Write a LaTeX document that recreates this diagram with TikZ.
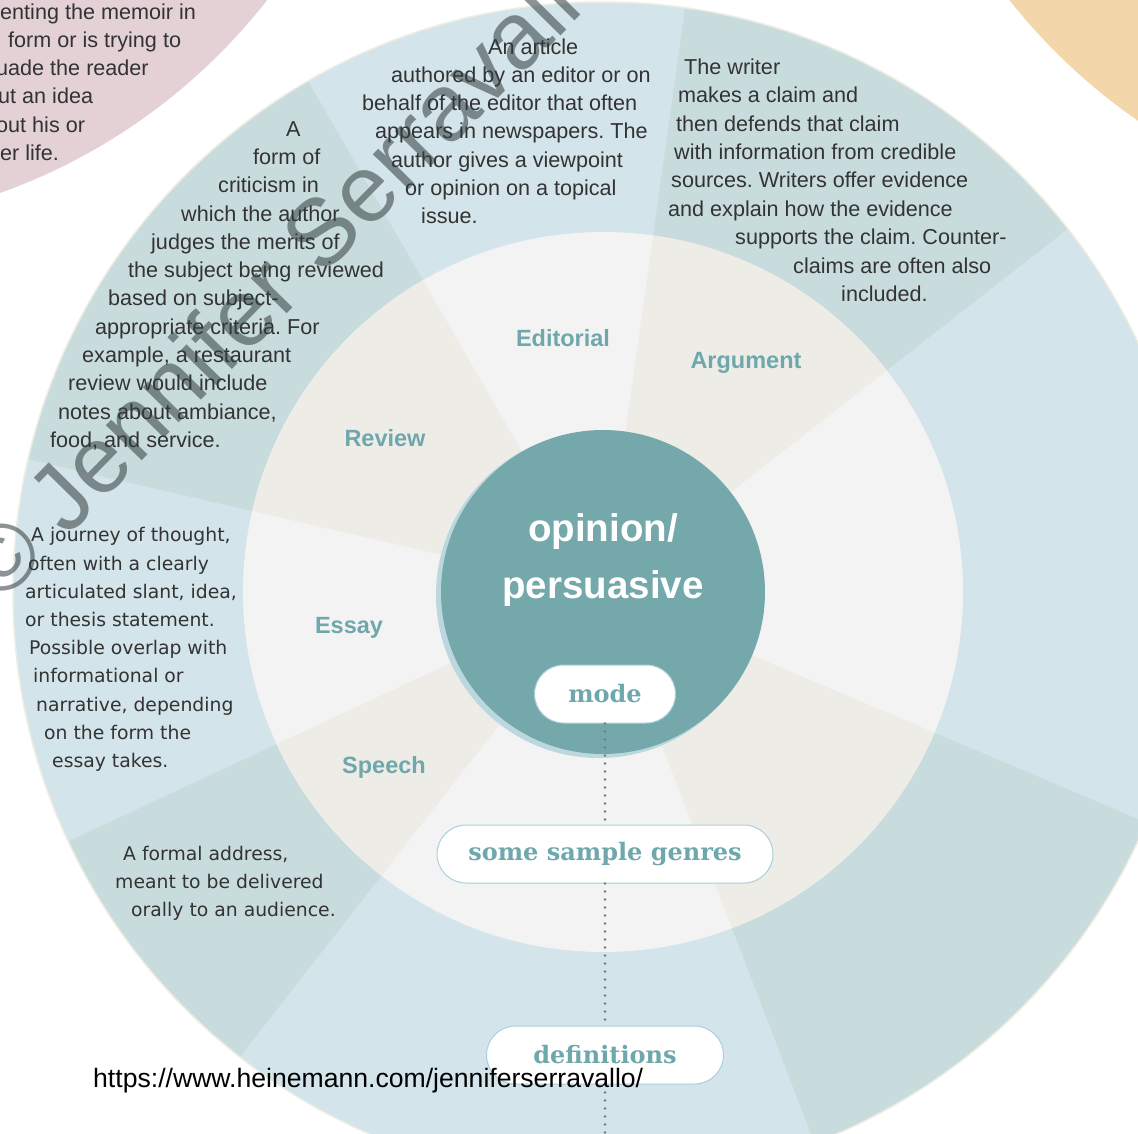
\documentclass[tikz,border=0pt]{standalone}
\usepackage{fontspec}
\setmainfont{Liberation Sans}
\newfontfamily\wideface{DejaVu Sans}
\newfontfamily\slabface{DejaVu Serif}
\usetikzlibrary{positioning}
\frenchspacing

\definecolor{ringblue}{HTML}{D3E4EA}
\definecolor{ringteal}{HTML}{C9DCDD}
\definecolor{rimcream}{HTML}{EEEDE3}
\definecolor{midwhite}{HTML}{F4F3F4}
\definecolor{midbeige}{HTML}{EEECE7}
\definecolor{hub}{HTML}{74A8AB}
\definecolor{hubrim}{HTML}{BCD8DE}
\definecolor{labelteal}{HTML}{6FA8AC}
\definecolor{pillline}{HTML}{A9CFDB}
\definecolor{memoirpink}{HTML}{E3D1D6}
\definecolor{infoorange}{HTML}{F3D6A9}
\definecolor{bodytext}{HTML}{333333}
\definecolor{wmgray}{HTML}{303C3D}
\definecolor{dotgray}{HTML}{6F7A7C}

\begin{document}
\begin{tikzpicture}[x=1pt, y=-1pt,
	textline/.style = {font=\fontsize{21.6}{26}\selectfont, text=bodytext, anchor=west, inner sep=0pt, text height=15pt, text depth=5pt},
	wideline/.style = {textline, font=\wideface\fontsize{18.8}{24}\selectfont, text height=14pt, text depth=4pt},
	genre/.style = {font=\bfseries\fontsize{23.5}{28}\selectfont, text=labelteal},
	pill/.style = {draw=pillline, line width=1pt, fill=white, rounded corners=29pt, minimum height=58pt, inner sep=0pt, font=\slabface\bfseries\fontsize{24}{28}\selectfont, text=labelteal},
	dots/.style = {draw=dotgray, line width=2.6pt, line cap=round, dash pattern=on 0pt off 8pt}]
	\useasboundingbox (0,0) rectangle (1138,1133);
	\clip (0,0) rectangle (1138,1133);
	\fill[white] (0,0) rectangle (1138,1133);

	% neighbouring wheels
	\fill[memoirpink] (-198,-363) circle[radius=590];
	\fill[infoorange] (1473,-365) circle[radius=590];

	% rings
	\coordinate (hubc) at (603,592);
	\fill[ringblue] (hubc) circle[radius=590];
	\foreach \a/\b in {-82/-38, -167/-120, -232/-205, 23/69}
		\fill[ringteal] (hubc) -- ++(\a:590) arc[start angle=\a, end angle=\b, radius=590] -- cycle;
	\draw[rimcream, line width=1.5pt] (hubc) circle[radius=590];
	\fill[midwhite] (hubc) circle[radius=360];
	\foreach \a/\b in {-82/-38, -167/-120, -232/-205, 23/69}
		\fill[midbeige] (hubc) -- ++(\a:360) arc[start angle=\a, end angle=\b, radius=360] -- cycle;
	\fill[hubrim] (599,595) circle[radius=163];
	\node[circle, fill=hub, minimum size=324pt, inner sep=0pt] (hub) at (hubc) {};
	\node[text=white, font=\bfseries\fontsize{38.5}{57}\selectfont, align=center] (title) at (603,560) {opinion/\\persuasive};

	% genre names
	\node[genre] (editorial) at (563,338) {Editorial};
	\node[genre] (argument) at (746,363) {Argument};
	\node[genre] (review) at (385,438) {Review};
	\node[genre] (essay) at (349,628) {Essay};
	\node[genre] (speech) at (384,767) {Speech};

	% definitions
	\foreach \x/\y/\t [count=\i] in {0/14/{enting the memoir in}, 8/42/{form or is trying to}, -4/70/{uade the reader}, -2/98/{ut an idea}, -4/127/{out his or}, 0/155/{er life.}}
		\node[textline] (memoir-\i) at (\x,\y) {\t};
	\foreach \x/\y/\t [count=\i] in {488/49/{An article}, 391/77/{authored by an editor or on}, 362/105/{behalf of the editor that often}, 375/133/{appears in newspapers. The}, 391/162/{author gives a viewpoint}, 405/190/{or opinion on a topical}, 421/218/{issue.}}
		\node[textline] (edit-\i) at (\x,\y) {\t};
	\foreach \x/\y/\t [count=\i] in {684/69/{The writer}, 678/97/{makes a claim and}, 676/126/{then defends that claim}, 674/154/{with information from credible}, 671/182/{sources. Writers offer evidence}, 668/211/{and explain how the evidence}, 735/239/{supports the claim. Counter-}, 793/268/{claims are often also}, 841/296/{included.}}
		\node[textline] (arg-\i) at (\x,\y) {\t};
	\foreach \x/\y/\t [count=\i] in {286/131/{A}, 253/159/{form of}, 218/187/{criticism in}, 181/216/{which the author}, 151/244/{judges the merits of}, 128/272/{the subject being reviewed}, 108/300/{based on subject-}, 95/329/{appropriate criteria. For}, 82/357/{example, a restaurant}, 68/385/{review would include}, 58/414/{notes about ambiance,}, 50/442/{food, and service.}}
		\node[textline] (rev-\i) at (\x,\y) {\t};
	\foreach \x/\y/\t [count=\i] in {31/536/{A journey of thought,}, 28/565/{often with a clearly}, 25/593/{articulated slant, idea,}, 25/621/{or thesis statement.}, 29/649/{Possible overlap with}, 33/677/{informational or}, 36/706/{narrative, depending}, 44/734/{on the form the}, 52/762/{essay takes.}}
		\node[wideline] (essay-\i) at (\x,\y) {\t};
	\foreach \x/\y/\t [count=\i] in {123/855/{A formal address,}, 115/883/{meant to be delivered}, 131/911/{orally to an audience.}}
		\node[wideline] (speech-\i) at (\x,\y) {\t};

	% key
	\node[pill, minimum width=141pt] (mode) at (605,694) {mode};
	\node[pill, minimum width=336pt] (genres) [below=101pt of mode] {some sample genres};
	\node[pill, minimum width=237pt] (defs) [below=142pt of genres] {definitions};
	\coordinate (foot) at (605,1133);
	\draw[dots] (mode) -- (genres);
	\draw[dots] (genres) -- (defs);
	\draw[dots] (defs) -- (foot);

	\node[font=\fontsize{26.6}{30}\selectfont, anchor=west, inner sep=0pt] (url) at (93,1081) {https://www.heinemann.com/jenniferserravallo/};
	\node[rotate=45.5, anchor=base west, inner sep=0pt, font=\fontsize{95}{100}\selectfont, text=wmgray, opacity=0.55] (stamp) at (0,606) {© Jennifer Serravallo};
\end{tikzpicture}
\end{document}
